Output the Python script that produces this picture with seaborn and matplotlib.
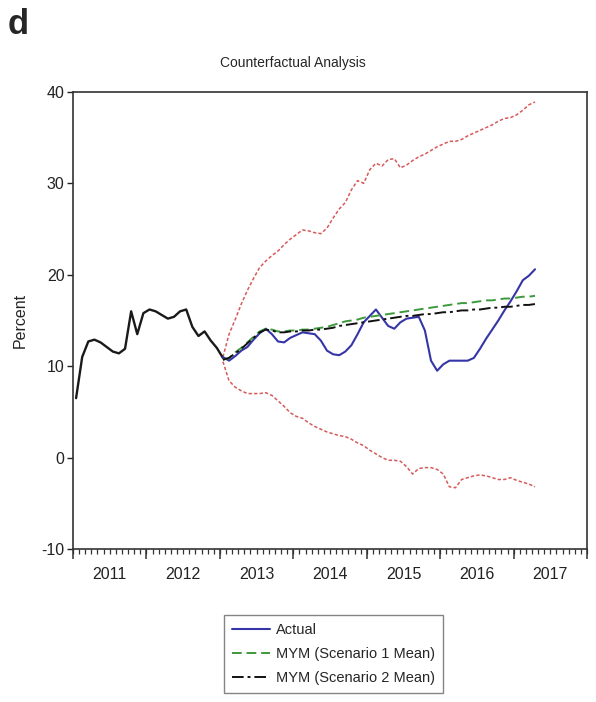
import matplotlib
matplotlib.use("Agg")
import matplotlib.pyplot as plt
import seaborn as sns
import numpy as np
import pandas as pd

# ---------------- data (monthly, history starts Jan 2011) ----------------
history = [6.5, 11.0, 12.7, 12.9, 12.6, 12.1, 11.6, 11.4, 11.9, 16.0, 13.5, 15.8,
           16.2, 16.0, 15.6, 15.2, 15.4, 16.0, 16.2, 14.3, 13.3, 13.8, 12.8, 12.0,
           10.9]
forecast_start = 24  # month index (Jan 2013)

actual = [11.0, 10.6, 11.1, 11.7, 12.1, 12.9, 13.6, 14.1, 13.5, 12.7, 12.6, 13.1,
          13.4, 13.7, 13.6, 13.5, 12.8, 11.7, 11.3, 11.2, 11.6, 12.3, 13.5, 14.8,
          15.5, 16.2, 15.3, 14.4, 14.1, 14.8, 15.2, 15.3, 15.4, 13.9, 10.6, 9.5,
          10.2, 10.6, 10.6, 10.6, 10.6, 10.9, 11.9, 13.0, 14.0, 15.0, 16.1, 17.1,
          18.2, 19.4, 19.9, 20.6]
scenario1 = [10.7, 10.9, 11.5, 12.0, 12.6, 13.2, 13.8, 14.1, 14.0, 13.8, 13.8, 13.9,
             13.9, 14.0, 14.0, 14.1, 14.2, 14.3, 14.5, 14.7, 14.9, 15.0, 15.1, 15.3,
             15.4, 15.5, 15.6, 15.7, 15.8, 15.9, 16.0, 16.1, 16.2, 16.3, 16.4, 16.5,
             16.6, 16.7, 16.8, 16.9, 16.9, 17.0, 17.1, 17.2, 17.2, 17.3, 17.4, 17.4,
             17.5, 17.6, 17.6, 17.7]
scenario2 = [10.7, 10.9, 11.4, 11.9, 12.5, 13.1, 13.7, 14.0, 13.9, 13.7, 13.7, 13.8,
             13.8, 13.9, 13.9, 14.0, 14.0, 14.1, 14.2, 14.4, 14.5, 14.6, 14.7, 14.8,
             14.9, 15.0, 15.1, 15.2, 15.3, 15.4, 15.5, 15.5, 15.6, 15.7, 15.7, 15.8,
             15.9, 15.9, 16.0, 16.1, 16.1, 16.2, 16.2, 16.3, 16.4, 16.4, 16.5, 16.5,
             16.6, 16.7, 16.7, 16.8]
upper = [11.0, 13.5, 15.1, 16.8, 18.3, 19.6, 20.8, 21.5, 22.1, 22.6, 23.3, 23.9,
         24.4, 24.9, 24.8, 24.6, 24.5, 25.1, 26.2, 27.2, 27.9, 29.3, 30.3, 30.0,
         31.5, 32.2, 31.9, 32.6, 32.7, 31.7, 32.0, 32.5, 32.9, 33.2, 33.6, 34.0,
         34.3, 34.6, 34.6, 34.8, 35.2, 35.5, 35.8, 36.1, 36.4, 36.8, 37.1, 37.2,
         37.5, 38.0, 38.6, 38.9]
lower = [10.5, 8.4, 7.7, 7.3, 7.0, 7.0, 7.0, 7.1, 6.8, 6.2, 5.6, 4.9,
         4.5, 4.3, 3.8, 3.4, 3.1, 2.8, 2.6, 2.4, 2.3, 2.0, 1.6, 1.3,
         0.8, 0.4, 0.0, -0.3, -0.3, -0.4, -1.0, -1.8, -1.2, -1.1, -1.1, -1.3,
         -1.8, -3.2, -3.3, -2.4, -2.2, -2.0, -1.9, -2.0, -2.2, -2.4, -2.4, -2.2,
         -2.5, -2.7, -2.9, -3.2]

year_labels = ["2011", "2012", "2013", "2014", "2015", "2016", "2017"]
y_ticks = [-10, 0, 10, 20, 30, 40]
legend_labels = ["Actual", "MYM (Scenario 1 Mean)", "MYM (Scenario 2 Mean)"]
title = "Counterfactual Analysis"
ylabel = "Percent"
panel = "d"

# ---------------- helpers ----------------
first_year = int(year_labels[0])

def month_pos(start, n):
    # observations plotted at the middle of each month
    return first_year + (np.arange(start, start + n) + 0.5) / 12.0

sns.set_theme(style="white")
FONT = ["Liberation Sans Narrow", "Liberation Sans", "DejaVu Sans"]
plt.rcParams["font.family"] = FONT

fig = plt.figure(figsize=(5.96, 7.02), dpi=100)
ax = fig.add_axes([0.1225, 0.218, 0.8625, 0.651])

x_hist = month_pos(0, len(history))
x_fc = month_pos(forecast_start, len(actual))

red = "#d65a5a"
sns.lineplot(x=month_pos(forecast_start, len(upper)), y=upper, ax=ax, color=red,
             lw=1.1, linestyle=(0, (2.2, 1.4)), legend=False)
sns.lineplot(x=month_pos(forecast_start, len(lower)), y=lower, ax=ax, color=red,
             lw=1.1, linestyle=(0, (2.2, 1.4)), legend=False)
sns.lineplot(x=x_hist, y=history, ax=ax, color="#1a1a1a", lw=1.7, legend=False)
sns.lineplot(x=x_fc, y=actual, ax=ax, color="#3535a8", lw=1.5, label=legend_labels[0])
sns.lineplot(x=month_pos(forecast_start, len(scenario1)), y=scenario1, ax=ax,
             color="#3c9a3c", lw=1.4, linestyle=(0, (5, 2.5)), label=legend_labels[1])
sns.lineplot(x=month_pos(forecast_start, len(scenario2)), y=scenario2, ax=ax,
             color="#111111", lw=1.4, linestyle=(0, (6, 2, 1.5, 2)), label=legend_labels[2])

# axes limits & ticks
n_years = len(year_labels)
ax.set_xlim(first_year, first_year + n_years)
ax.set_ylim(y_ticks[0], y_ticks[-1])
ax.set_yticks(y_ticks)
ax.set_yticklabels([str(v) for v in y_ticks], fontsize=11.5)
ax.tick_params(axis="y", direction="out", length=4, width=1, pad=2, left=True,
               colors="#222222")

mid_years = first_year + np.arange(n_years) + 0.5
ax.set_xticks(mid_years)
ax.set_xticklabels(year_labels, fontsize=11.5)
ax.set_xticks(first_year + np.arange(n_years * 12 + 1) / 12.0, minor=True)
ax.xaxis.remove_overlapping_locs = False
ax.tick_params(axis="x", which="major", length=0, pad=13, bottom=True, colors="#222222")
ax.tick_params(axis="x", which="minor", length=3.5, width=0.9, direction="out",
               bottom=True, color="#333333")

sec = ax.secondary_xaxis("bottom")
sec.set_xticks(first_year + np.arange(n_years + 1))
sec.set_xticklabels([""] * (n_years + 1))
sec.tick_params(length=7.5, width=1.1, direction="out", color="#333333")
sec.spines["bottom"].set_visible(False)

for s in ax.spines.values():
    s.set_visible(True)
    s.set_color("#333333")
    s.set_linewidth(1.2)
ax.grid(False)
ax.set_xlabel("")
ax.set_ylabel("")

fig.text(20 / 596, 0.5 * (0.218 + 0.869), ylabel, rotation=90, ha="center", va="center",
         fontsize=11.5, family=FONT)
fig.text(293 / 596, 1 - 63 / 702, title, ha="center", va="center", fontsize=10,
         family=FONT)
fig.text(8 / 596, 1 - 25 / 702, panel, ha="left", va="center", fontsize=25,
         fontweight="bold", family=["Liberation Sans", "DejaVu Sans"])

leg = ax.legend(loc="upper left", bbox_to_anchor=(224 / 596, 1 - 615 / 702),
                bbox_transform=fig.transFigure, fontsize=10.5, frameon=True,
                fancybox=False, edgecolor="#666666", handlelength=2.6,
                labelspacing=0.68, borderpad=0.55, handletextpad=0.4,
                borderaxespad=0)
leg.get_frame().set_linewidth(1.0)

fig.savefig("out.png", dpi=100)
